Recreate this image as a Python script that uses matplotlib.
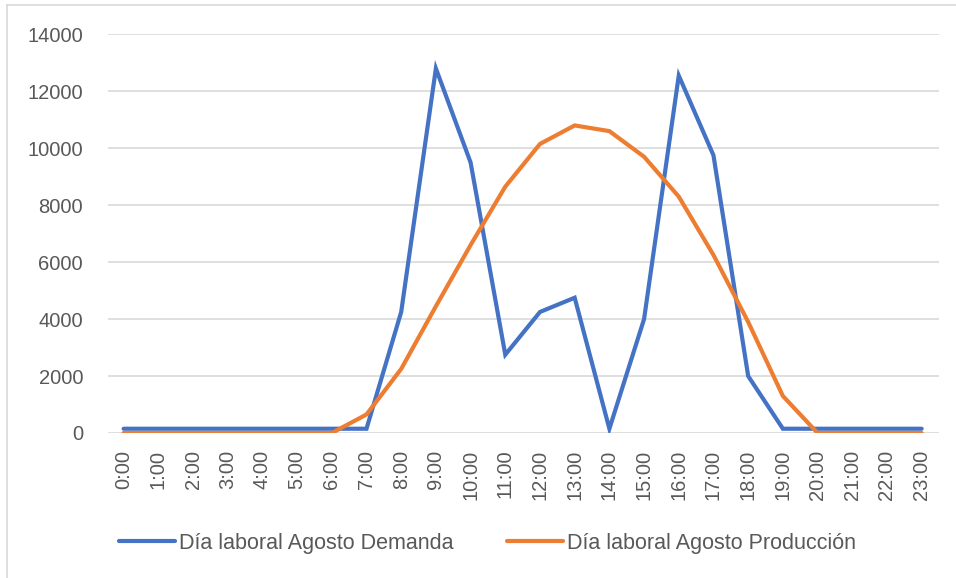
import matplotlib.pyplot as plt
from matplotlib.lines import Line2D

plt.rcParams['font.family'] = ['Liberation Sans', 'DejaVu Sans']

horas = [f'{h}:00' for h in range(24)]
demanda = [150, 150, 150, 150, 150, 150, 150, 150, 4250, 12800, 9500, 2750,
           4250, 4750, 150, 4000, 12550, 9750, 2000, 150, 150, 150, 150, 150]
produccion = [0, 0, 0, 0, 0, 0, 0, 650, 2250, 4450, 6600, 8650,
              10150, 10800, 10600, 9700, 8300, 6250, 3900, 1300, 0, 0, 0, 0]
y_ticks = list(range(0, 14001, 2000))

W, H = 956, 578
fig = plt.figure(figsize=(W / 100, H / 100), dpi=100)
ax = fig.add_axes([108 / W, 1 - 433 / H, (939 - 108) / W, (433 - 34.3) / H])

x = list(range(len(horas)))
ax.plot(x, demanda, color='#4472C4', lw=3.0, solid_joinstyle='miter',
        solid_capstyle='round', label='Día laboral Agosto Demanda', zorder=3)
ax.plot(x, produccion, color='#ED7D31', lw=3.0, solid_joinstyle='miter',
        solid_capstyle='round', label='Día laboral Agosto Producción', zorder=3)

ax.set_ylim(0, 14000)
ax.set_xlim(-0.45, 23.5)
ax.set_yticks(y_ticks)
ax.set_xticks(x)
ax.set_xticklabels(horas, rotation=90, va='top', ha='center')
ax.yaxis.grid(True, color='#D9D9D9', lw=1.2)
ax.set_axisbelow(True)
for s in ax.spines.values():
    s.set_visible(False)
ax.tick_params(axis='both', length=0, labelsize=14.5, colors='#595959')
ax.tick_params(axis='y', pad=18)
ax.tick_params(axis='x', pad=12)

fig.legend(loc='center', bbox_to_anchor=(0.51, 1 - 543 / H), ncol=2,
           frameon=False, fontsize=15.5, handlelength=2.6, handletextpad=0.2,
           columnspacing=2.5, labelcolor='#595959')

# borde del área del gráfico
fig.add_artist(Line2D([7 / W, 1], [1 - 5 / H, 1 - 5 / H], color='#D9D9D9', lw=1.2))
fig.add_artist(Line2D([7 / W, 7 / W], [0, 1 - 5 / H], color='#D9D9D9', lw=1.2))

fig.savefig('out.png', dpi=100)
